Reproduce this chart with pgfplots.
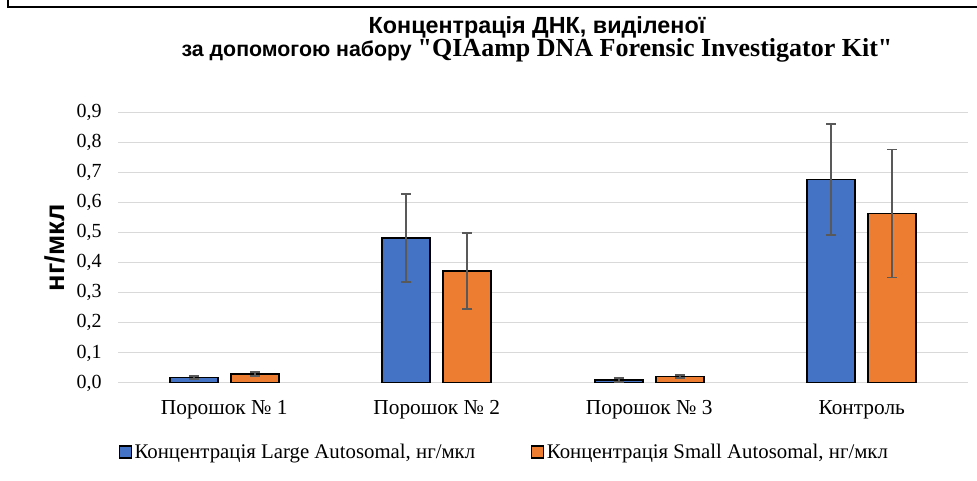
\documentclass[border=0pt]{standalone}
\usepackage{fontspec}
\setmainfont{Liberation Serif}
\newfontfamily\sansb{Liberation Sans}
\newfontfamily\serifplain{Liberation Serif}
\usepackage{pgfplots}
\pgfplotsset{compat=1.18}
\definecolor{barblue}{HTML}{4472C4}
\definecolor{barorange}{HTML}{ED7D31}
\definecolor{gridgray}{HTML}{D9D9D9}
\definecolor{errgray}{HTML}{595959}
\begin{document}
\begin{tikzpicture}
\useasboundingbox (0,0) rectangle (732.75pt,360.75pt);
\draw[line width=1.5pt] (6pt,360.75pt) -- (6pt,355.5pt) -- (732.75pt,355.5pt);
\node[anchor=base] at (402.75pt,335.5pt) {\sansb\bfseries\fontsize{17.5}{20}\selectfont Концентрація ДНК, виділеної};
\node[anchor=base] at (402.75pt,318.5pt) {\sansb\bfseries\fontsize{16}{19}\selectfont за допомогою набору {\serifplain\bfseries\fontsize{19.5}{22}\selectfont "QIAamp DNA Forensic Investigator Kit"}};
\begin{axis}[
  at={(88.5pt,73.5pt)}, anchor=south west,
  scale only axis, width=637.5pt, height=202.9pt,
  xmin=-0.5, xmax=3.5, ymin=0, ymax=0.9,
  ybar=9.75pt, bar width=36pt,
  axis line style={draw=none},
  major tick length=0pt,
  ymajorgrids, grid style={gridgray, line width=0.75pt},
  xtick={0,1,2,3},
  xticklabels={Порошок № 1, Порошок № 2, Порошок № 3, Контроль},
  ytick={0,0.1,0.2,0.3,0.4,0.5,0.6,0.7,0.8,0.9},
  yticklabel style={/pgf/number format/.cd, fixed, fixed zerofill, precision=1, use comma, assume math mode=true, /tikz/.cd, font=\fontsize{15}{18}\selectfont, anchor=east, inner sep=0pt, xshift=-12pt},
  xticklabel style={font=\fontsize{16}{19}\selectfont, anchor=center, yshift=-20pt},
  ylabel={нг/мкл},
  every axis y label/.style={at={(axis description cs:0,0.5)}, xshift=-47.25pt, rotate=90, anchor=center, font=\sansb\bfseries\fontsize{20.5}{24}\selectfont},
  legend style={at={(0.455,-0.255)}, anchor=center, draw=none, fill=none, font=\fontsize{15.6}{18}\selectfont, /tikz/every even column/.append style={column sep=40pt}},
  legend columns=2,
  legend image code/.code={\draw[#1, line width=0.8pt] (0pt,-4.5pt) rectangle (9pt,4.5pt);},
  error bars/y dir=both, error bars/y explicit,
  error bars/error bar style={draw=errgray, line width=1.4pt},
  error bars/error mark options={rotate=90, draw=errgray, mark size=3.75pt, line width=1.4pt},
]
\addplot[fill=barblue, draw=black, line width=1.2pt] coordinates {
  (0,0.018) +- (0,0.006)
  (1,0.482) +- (0,0.147)
  (2,0.010) +- (0,0.006)
  (3,0.677) +- (0,0.184)
};
\addlegendentry{Концентрація Large Autosomal, нг/мкл}
\addplot[fill=barorange, draw=black, line width=1.2pt] coordinates {
  (0,0.030) +- (0,0.007)
  (1,0.372) +- (0,0.127)
  (2,0.022) +- (0,0.006)
  (3,0.564) +- (0,0.213)
};
\addlegendentry{Концентрація Small Autosomal, нг/мкл}
\end{axis}
\end{tikzpicture}
\end{document}
